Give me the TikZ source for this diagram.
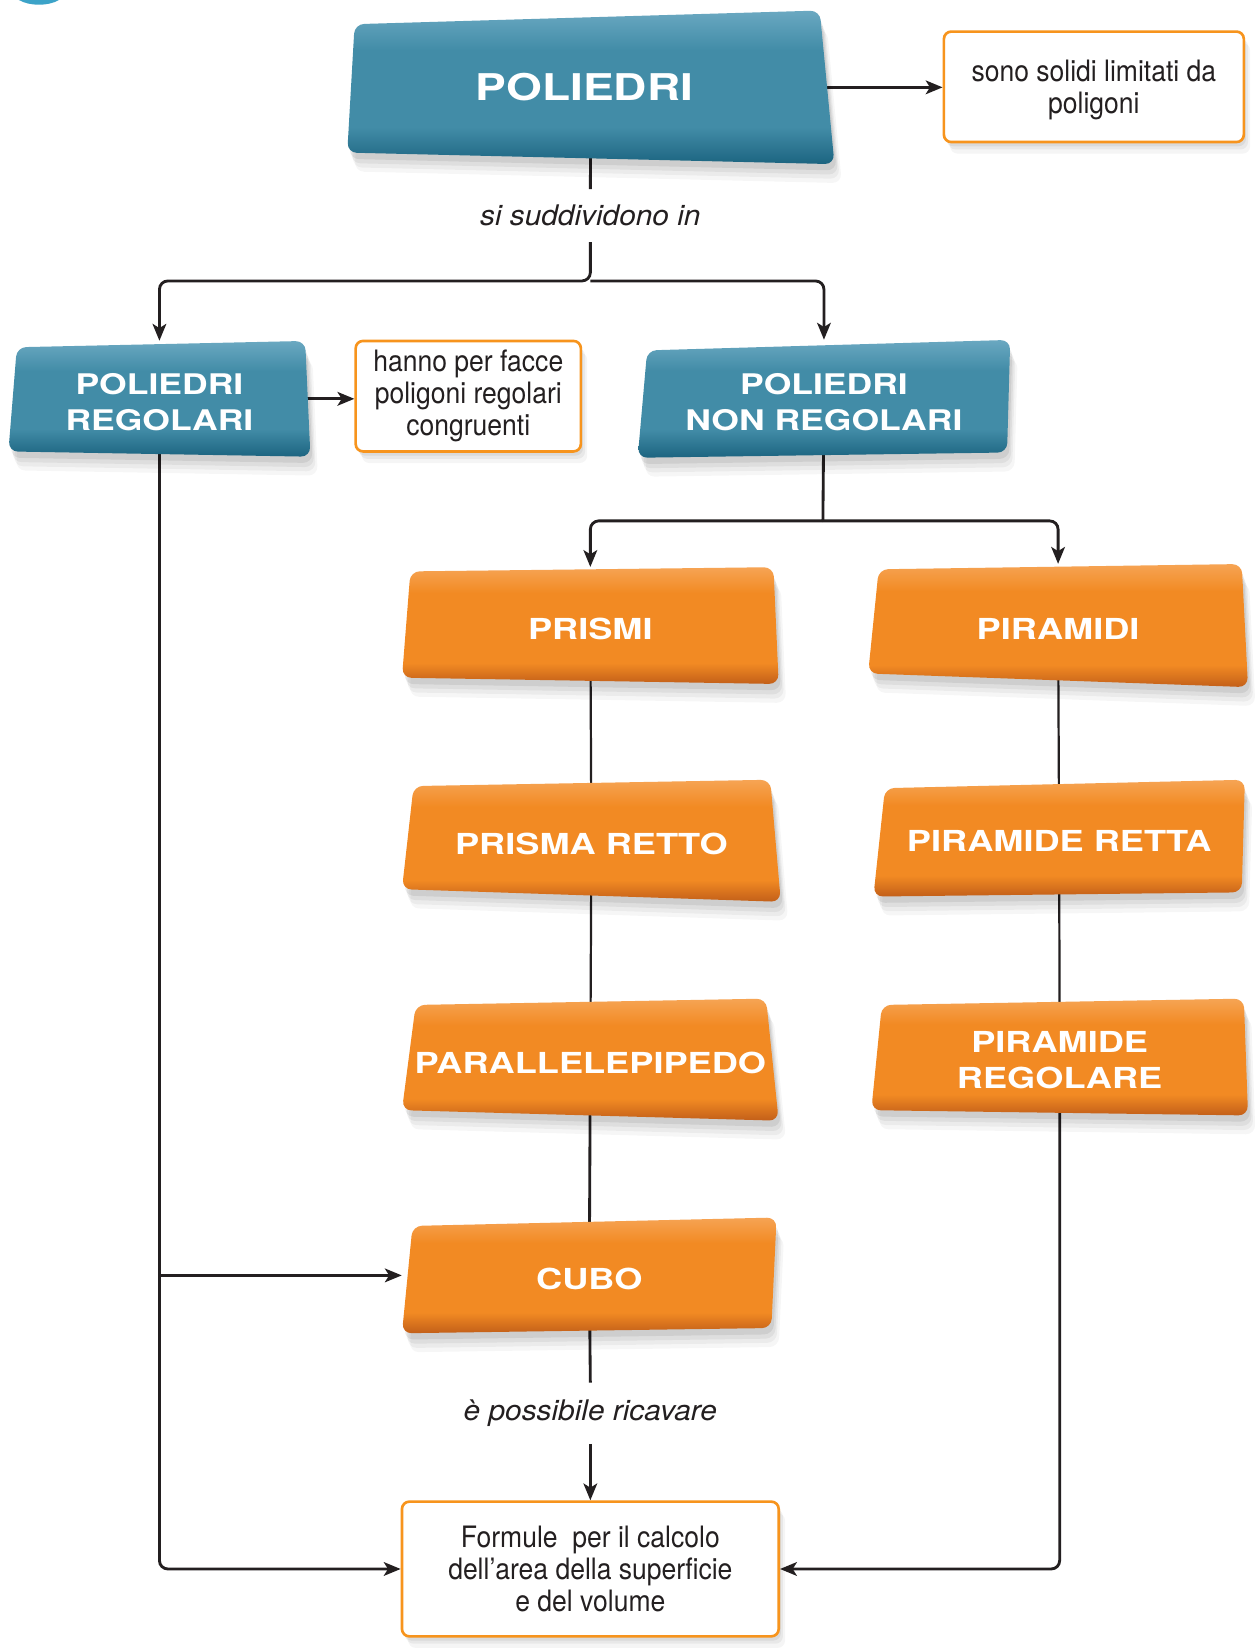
\documentclass[tikz,border=0pt]{standalone}
\usepackage{fontspec}
\setmainfont{TeX Gyre Heros}[FakeStretch=0.9]
\newfontfamily\hd[FakeStretch=1.25]{TeX Gyre Heros}
\newfontfamily\lb[FakeStretch=1.05]{TeX Gyre Heros}
\usetikzlibrary{arrows.meta,fit,backgrounds}
\definecolor{ink}{HTML}{231F20}
\definecolor{tealA}{HTML}{6AA8C1}
\definecolor{tealB}{HTML}{428CA7}
\definecolor{tealC}{HTML}{1C6480}
\definecolor{orA}{HTML}{F6A454}
\definecolor{orB}{HTML}{F28A23}
\definecolor{orC}{HTML}{C25F19}
\definecolor{orline}{HTML}{F7941D}
\definecolor{wave}{HTML}{3CA3C8}
\pgfdeclareverticalshading{orsh}{100bp}{color(0bp)=(orC); color(25bp)=(orC); color(34bp)=(orB); color(64bp)=(orB); color(75bp)=(orA); color(100bp)=(orA)}
\pgfdeclareverticalshading{tlsh}{100bp}{color(0bp)=(tealC); color(25bp)=(tealC); color(37bp)=(tealB); color(62bp)=(tealB); color(75bp)=(tealA); color(100bp)=(tealA)}
\newcommand{\defbox}[5]{%
  \coordinate (#1-tl) at (#2);
  \coordinate (#1-tr) at (#3);
  \coordinate (#1-br) at (#4);
  \coordinate (#1-bl) at (#5);
  \node[fit=(#1-tl)(#1-tr)(#1-br)(#1-bl), inner sep=0pt] (#1) {};}
\newcommand{\drawbox}[5][0pt]{%
  \shade[#3, softshadow, rounded corners=9pt] (#2-tl) -- (#2-tr) -- (#2-br) -- (#2-bl) -- cycle;
  \node[#4, xshift=#1] (#2-txt) at (#2.center) {#5};}
\tikzset{
  softshadow/.style={
    preaction={fill=black, fill opacity=.035, transform canvas={xshift=7pt,yshift=-18pt}},
    preaction={fill=black, fill opacity=.045, transform canvas={xshift=5pt,yshift=-14pt}},
    preaction={fill=black, fill opacity=.055, transform canvas={xshift=3.5pt,yshift=-10pt}},
    preaction={fill=black, fill opacity=.07, transform canvas={xshift=2pt,yshift=-6pt}}},
  lightshadow/.style={
    preaction={fill=black, fill opacity=.04, transform canvas={xshift=6pt,yshift=-11pt}},
    preaction={fill=black, fill opacity=.05, transform canvas={xshift=4pt,yshift=-7pt}},
    preaction={fill=black, fill opacity=.06, transform canvas={xshift=2pt,yshift=-4pt}}},
  tealfill/.style={shading=tlsh},
  orfill/.style={shading=orsh},
  bigtext/.style={text=white, font=\hd\bfseries\fontsize{35}{40}\selectfont, align=center, inner sep=0pt},
  bluetext/.style={text=white, font=\hd\bfseries\fontsize{27}{34}\selectfont, align=center, inner sep=0pt, yshift=-3pt},
  ortext/.style={text=white, font=\hd\bfseries\fontsize{27.5}{34}\selectfont, align=center, inner sep=0pt, yshift=-3pt},
  desc/.style={draw=orline, line width=2.5pt, fill=white, rounded corners=7pt, align=center,
    font=\fontsize{28}{30.5}\selectfont, text=ink, inner sep=0pt, lightshadow},
  lab/.style={font=\lb\itshape\fontsize{27}{30}\selectfont, text=ink, inner sep=0pt},
  conn/.style={draw=ink, line width=2.7pt},
  thin/.style={draw=ink, line width=2.1pt},
  arr/.style={conn, -{Stealth[length=16pt,width=13pt,inset=4pt]}},
}
\begin{document}
\begin{tikzpicture}[x=1pt,y=-1pt]
\useasboundingbox (0,0) rectangle (1192,1568);
\begin{scope}[on background layer]
\fill[white] (0,0) rectangle (1192,1568);
\end{scope}
\fill[wave] (18,0) .. controls (28,6) and (46,6) .. (56,0) -- cycle;

% box geometry
\defbox{pol}{337,23}{779,10}{793,156}{330,145}
\defbox{reg}{16,330}{290,324}{295,434}{8,429}
\defbox{nonreg}{615,333}{960,323}{957,430}{606,435}
\defbox{prismi}{390,543}{735,539}{740,650}{382,644}
\defbox{piramidi}{835,541}{1180,536}{1186,653}{825,640}
\defbox{pretto}{393,747}{732,741}{742,857}{382,845}
\defbox{pretta}{841,749}{1183,741}{1180,848}{830,852}
\defbox{para}{395,955}{728,949}{740,1065}{382,1055}
\defbox{preg}{838,955}{1182,949}{1186,1060}{828,1055}
\defbox{cubo}{392,1165}{738,1157}{733,1262}{382,1267}

% description boxes and labels
\node[desc, minimum width=285pt, minimum height=105pt] (sono) at (1039.5,82.5)
  {\rule{0pt}{26pt}sono solidi limitati da\\poligoni};
\node[desc, minimum width=214pt, minimum height=105pt] (hanno) at (445,376.5)
  {hanno per facce\\poligoni regolari\\congruenti};
\node[desc, minimum width=358pt, minimum height=128pt] (formule) at (561,1491)
  {Formule\ \ per il calcolo\\dell'area della superficie\\e del volume};
\node[lab, minimum height=50pt] (lab1) at (561,205) {si suddividono in};
\node[lab, minimum height=58pt] (lab2) at (561,1343) {è possibile ricavare};
\coordinate (sp1) at (561,267);
\coordinate (sp2) at (782,495);

% connectors
\begin{scope}[on background layer]
\draw[conn] (pol.center) -- (lab1.north);
\draw[arr, rounded corners=8pt] (lab1.south) -- (sp1) -| (reg.north);
\draw[arr, rounded corners=8pt] (sp1) -| (nonreg.north);
\draw[arr] (pol.center) -- (sono.west |- pol.center);
\draw[arr] (reg.center) -- (reg.center -| hanno.west);
\draw[conn] (nonreg.center) -- (sp2);
\draw[arr, rounded corners=8pt] (sp2) -| (prismi.north);
\draw[arr, rounded corners=8pt] (sp2) -| (piramidi.north);
\draw[thin] (prismi.center) -- (pretto.center);
\draw[thin] (pretto.center) -- (para.center);
\draw[conn] (para.center) -- (cubo.center);
\draw[conn] (cubo.center) -- (lab2.north);
\draw[thin] (piramidi.center) -- (pretta.center);
\draw[thin] (pretta.center) -- (preg.center);
\draw[arr] (lab2.south) -- (formule.north);
\draw[arr, rounded corners=8pt] (reg.center) |- (formule.west);
\draw[arr] (reg.center |- cubo.center) -- (cubo.west);
\draw[arr, rounded corners=8pt] (preg.center) |- (formule.east);
\end{scope}

% coloured boxes
\drawbox[-6pt]{pol}{tealfill}{bigtext}{POLIEDRI}
\drawbox{reg}{tealfill}{bluetext}{POLIEDRI\\REGOLARI}
\drawbox{nonreg}{tealfill}{bluetext}{POLIEDRI\\NON REGOLARI}
\drawbox{prismi}{orfill}{ortext}{PRISMI}
\drawbox{piramidi}{orfill}{ortext}{PIRAMIDI}
\drawbox{pretto}{orfill}{ortext}{PRISMA RETTO}
\drawbox{pretta}{orfill}{ortext}{PIRAMIDE RETTA}
\drawbox{para}{orfill}{ortext}{PARALLELEPIPEDO}
\drawbox{preg}{orfill}{ortext}{PIRAMIDE\\REGOLARE}
\drawbox{cubo}{orfill}{ortext}{CUBO}
\end{tikzpicture}
\end{document}
